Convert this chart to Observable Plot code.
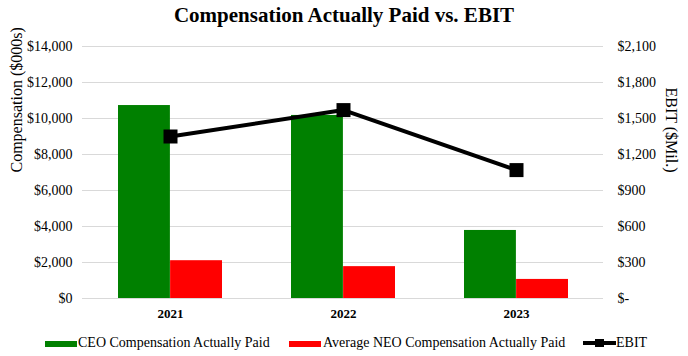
<!DOCTYPE html>
<html><head><meta charset="utf-8">
<script src="https://cdn.jsdelivr.net/npm/d3@7"></script>
<script src="https://cdn.jsdelivr.net/npm/@observablehq/plot@0.6"></script>
<style>
body{margin:0;background:#fff;font-family:"Liberation Serif","Times New Roman",serif;color:#000;}
#wrap{width:688px;height:356px;position:relative;overflow:hidden;}
#title{height:30px;line-height:30px;text-align:center;font-weight:bold;font-size:21px;}
#chart svg{display:block;}
#legend{position:relative;height:26px;font-size:14px;line-height:26px;}
#legend .sw{position:absolute;top:11px;height:6px;}
#legend .lb{position:absolute;top:0;white-space:nowrap;}
#legend svg{position:absolute;top:8px;}
</style></head><body>
<div id="wrap"><div id="title"></div><div id="chart"></div><div id="legend"></div></div>
<script>
const years = ["2021", "2022", "2023"];
const ceoComp = [10720, 10170, 3780];
const neoComp = [2100, 1770, 1060];
const ebit = [1350, 1570, 1070];
const seriesNames = ["CEO Compensation Actually Paid", "Average NEO Compensation Actually Paid", "EBIT"];
const seriesColors = ["#008000", "#ff0000", "#000000"];
const leftTicks = [0, 2000, 4000, 6000, 8000, 10000, 12000, 14000];
const rightTicks = [0, 300, 600, 900, 1200, 1500, 1800, 2100];
const titleText = "Compensation Actually Paid vs. EBIT";
const leftLabel = "Compensation ($000s)";
const rightLabel = "EBIT ($Mil.)";

const ratio = leftTicks[leftTicks.length - 1] / rightTicks[rightTicks.length - 1];
const rows = years.map((y, i) => ({year: y, ceo: ceoComp[i], neo: neoComp[i], ebit: ebit[i], ebitScaled: ebit[i] * ratio}));

const W = 688, H = 300, mL = 82, mR = 85, mT = 16, mB = 32;
const pIn = 0.4, pOut = 0.2;
const bw = (W - mL - mR) / (years.length - pIn + 2 * pOut) * (1 - pIn);
const fmt = d3.format(",");

document.getElementById("title").textContent = titleText;

const plot = Plot.plot({
  width: W, height: H, marginTop: mT, marginBottom: mB, marginLeft: mL, marginRight: mR,
  style: {fontFamily: "Liberation Serif, Times New Roman, serif", fontSize: "14px", color: "#000", background: "#fff", overflow: "visible"},
  x: {type: "band", domain: years, paddingInner: pIn, paddingOuter: pOut, axis: null},
  y: {domain: [0, 14000], axis: null},
  marks: [
    Plot.ruleY(leftTicks, {stroke: "#d9d9d9", strokeWidth: 1}),
    Plot.barY(rows, {x: "year", y: "ceo", fill: seriesColors[0], insetRight: bw / 2}),
    Plot.barY(rows, {x: "year", y: "neo", fill: seriesColors[1], insetLeft: bw / 2}),
    Plot.line(rows, {x: "year", y: "ebitScaled", stroke: seriesColors[2], strokeWidth: 4}),
    Plot.dot(rows, {x: "year", y: "ebitScaled", symbol: "square", r: 7.9, fill: seriesColors[2], stroke: null}),
    Plot.axisX({tickSize: 0, tickPadding: 10, fontWeight: "bold", fontSize: 13, label: null}),
    Plot.axisY(leftTicks, {anchor: "left", tickSize: 0, tickPadding: 10, fontSize: 14, label: null,
      tickFormat: d => "$" + fmt(d)}),
    Plot.axisY(rightTicks.map(t => t * ratio), {anchor: "right", tickSize: 0, tickPadding: 14, fontSize: 14, label: null,
      tickFormat: d => { const v = Math.round(d / ratio); return v === 0 ? "$-" : "$" + fmt(v); }}),
    Plot.text([leftLabel], {text: d => d, frameAnchor: "left", dx: -66, rotate: -90, fontSize: 16}),
    Plot.text([rightLabel], {text: d => d, frameAnchor: "right", dx: 68, rotate: 90, fontSize: 16})
  ]
});
document.getElementById("chart").appendChild(plot);

// legend
const lg = document.getElementById("legend");
const legendPos = [{sw: 45, lb: 78}, {sw: 289, lb: 323}, {sw: 583, lb: 616}];
seriesNames.forEach((name, i) => {
  if (i < 2) {
    const s = document.createElement("div");
    s.className = "sw";
    s.style.left = legendPos[i].sw + "px";
    s.style.width = "32px";
    s.style.background = seriesColors[i];
    lg.appendChild(s);
  } else {
    const ns = "http://www.w3.org/2000/svg";
    const svg = document.createElementNS(ns, "svg");
    svg.setAttribute("width", 33); svg.setAttribute("height", 10);
    svg.style.left = legendPos[i].sw + "px";
    const ln = document.createElementNS(ns, "line");
    ln.setAttribute("x1", 0); ln.setAttribute("x2", 33); ln.setAttribute("y1", 5); ln.setAttribute("y2", 5);
    ln.setAttribute("stroke", seriesColors[i]); ln.setAttribute("stroke-width", 4);
    const rc = document.createElementNS(ns, "rect");
    rc.setAttribute("x", 12); rc.setAttribute("y", 1); rc.setAttribute("width", 9); rc.setAttribute("height", 8);
    rc.setAttribute("fill", seriesColors[i]);
    svg.appendChild(ln); svg.appendChild(rc);
    lg.appendChild(svg);
  }
  const t = document.createElement("span");
  t.className = "lb";
  t.style.left = legendPos[i].lb + "px";
  t.textContent = name;
  lg.appendChild(t);
});
</script>
</body></html>
